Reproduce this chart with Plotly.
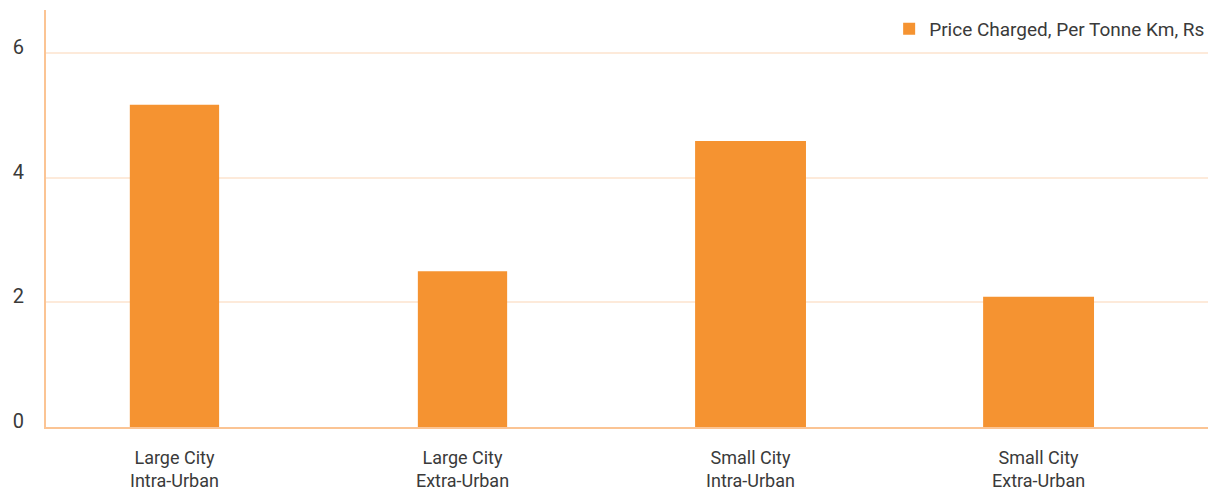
import plotly.graph_objects as go

categories = ["Large City<br>Intra-Urban", "Large City<br>Extra-Urban",
              "Small City<br>Intra-Urban", "Small City<br>Extra-Urban"]
price_per_tonne_km = [5.17, 2.50, 4.59, 2.09]
series_name = "Price Charged, Per Tonne Km, Rs"
y_ticks = [0, 2, 4, 6]

BAR = "#F59331"
AXIS = "#FBC494"
GRID = "#FDEADA"
TEXT = "#3a3a3a"
FONT = "Roboto"

fig = go.Figure()
fig.add_trace(go.Bar(
    x=categories, y=price_per_tonne_km, name=series_name,
    marker=dict(color=BAR, line=dict(width=0)),
    width=[0.31, 0.31, 0.385, 0.385],
    showlegend=True,
))

fig.update_layout(
    width=1208, height=488,
    margin=dict(l=38, r=0, t=2, b=69),
    paper_bgcolor="white", plot_bgcolor="white",
    font=dict(family=FONT, color=TEXT, size=18),
    showlegend=True,
    legend=dict(x=0.995, xanchor="right", y=1.0, yanchor="top",
                font=dict(size=19, color=TEXT, family=FONT),
                bgcolor="rgba(0,0,0,0)"),
)
fig.update_xaxes(
    type="category", range=[-0.446, 3.616],
    showline=True, linecolor=AXIS, linewidth=2,
    showgrid=False, ticks="", ticklabelstandoff=13,
    tickfont=dict(size=18, color=TEXT, family=FONT),
)
fig.update_yaxes(
    range=[0, 6.69], tickvals=y_ticks,
    showline=True, linecolor=AXIS, linewidth=2,
    showgrid=True, gridcolor=GRID, gridwidth=2,
    zeroline=False, ticks="",
    ticklabelstandoff=16, ticklabelshift=-6,
    tickfont=dict(size=20, color=TEXT, family=FONT),
)

fig.write_html("out.html")
